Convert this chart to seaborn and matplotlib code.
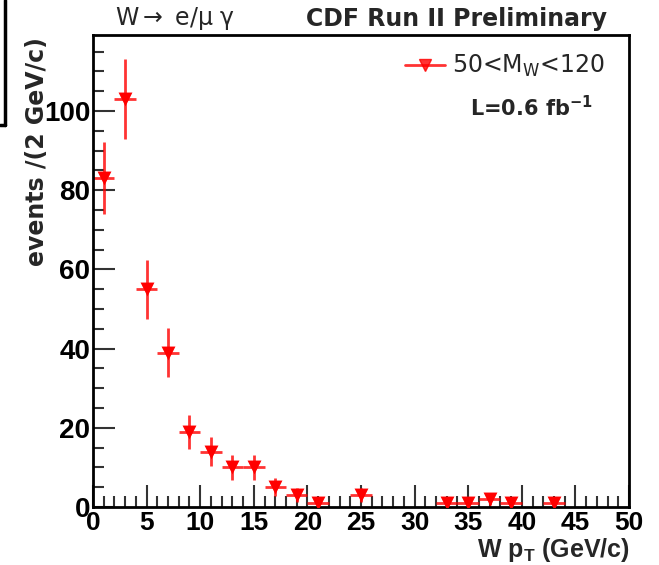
import numpy as np
import pandas as pd
import seaborn as sns
import matplotlib
matplotlib.use("Agg")
import matplotlib.pyplot as plt
from matplotlib.lines import Line2D
from matplotlib.ticker import MultipleLocator

# Data: W pT histogram (2 GeV/c bins), bin centres and counts
pt_centers = [1, 3, 5, 7, 9, 11, 13, 15, 17, 19, 21, 25, 33, 35, 37, 39, 43]
counts = [83, 103, 55, 39, 19, 14, 10, 10, 5, 3, 1, 3, 1, 1, 2, 1, 1]
bin_halfwidth = [1] * len(pt_centers)
y_err = [np.sqrt(c) for c in counts]

df = pd.DataFrame({"pt": pt_centers, "events": counts,
                   "xerr": bin_halfwidth, "yerr": y_err})

sns.set_style("ticks")
plt.rcParams['font.family'] = ['Liberation Sans', 'DejaVu Sans']

fig = plt.figure(figsize=(6.59, 5.65), dpi=100)
ax = fig.add_axes([93/659, 1-507/565, (629-93)/659, (507-35)/565])

red = "#ff0000"
ax.errorbar(df["pt"], df["events"], xerr=df["xerr"], yerr=df["yerr"],
            fmt="none", ecolor=red, elinewidth=2, capsize=0, alpha=0.8)
sns.scatterplot(data=df, x="pt", y="events", marker="v", color=red,
                s=100, edgecolor=red, linewidth=0, ax=ax, legend=False, zorder=3)

ax.set_xlim(0, 50)
ax.set_ylim(0, 119.2)
ax.xaxis.set_major_locator(MultipleLocator(5))
ax.xaxis.set_minor_locator(MultipleLocator(1))
ax.yaxis.set_major_locator(MultipleLocator(20))
ax.yaxis.set_minor_locator(MultipleLocator(5))
ax.tick_params(which="major", direction="in", length=16, width=1.5,
               color="#333333", labelcolor="black")
ax.tick_params(axis="y", which="major", pad=2, labelsize=20)
ax.tick_params(axis="x", which="major", pad=3, labelsize=19)
ax.tick_params(which="minor", direction="in", length=8, width=1.5,
               color="#333333")
for lab in ax.get_xticklabels() + ax.get_yticklabels():
    lab.set_fontweight("bold")
for sp in ax.spines.values():
    sp.set_visible(True)
    sp.set_linewidth(2)
    sp.set_color("black")
ax.set_xlabel("")
ax.set_ylabel("")

# axis titles
fig.text(630/659, 1-550/565, r"W p$_\mathregular{T}$ (GeV/c)", ha="right",
         va="center", fontsize=18, fontweight="bold")
fig.text(37/659, 1-152/565, "events /(2 GeV/c)", rotation=90, ha="center",
         va="center", fontsize=17, fontweight="bold", family=["DejaVu Sans"])

# top titles
fig.text(115/659, 1-19/565,
         r"W$\rightarrow$ e/$\mathregular{\mu}$ $\mathregular{\gamma}$",
         ha="left", va="center", fontsize=17, family=["DejaVu Sans"])
fig.text(306/659, 1-19/565, "CDF Run II Preliminary", ha="left",
         va="center", fontsize=17, fontweight="bold", family=["DejaVu Sans"])

# legend
handle = Line2D([], [], color=red, marker="v", markersize=9, linewidth=2,
                alpha=0.8)
ax.legend([handle], [r"50<M$_\mathregular{W}$<120"], loc="center left",
          bbox_to_anchor=(405/659, 1-66/565), bbox_transform=fig.transFigure,
          frameon=False, borderpad=0, borderaxespad=0,
          prop={"family": "DejaVu Sans", "size": 17},
          handlelength=1.7, handletextpad=0.3)
fig.text(470/659, 1-108/565, r"L=0.6 fb$^{\mathbf{-1}}$", ha="left",
         va="center", fontsize=15, fontweight="bold", family=["DejaVu Sans"])

# stray bracket at top-left
fig.add_artist(Line2D([5/659, 5/659], [1.0, 1-125/565], color="black",
                      linewidth=2.5, transform=fig.transFigure))
fig.add_artist(Line2D([0, 5/659], [1-125/565, 1-125/565], color="black",
                      linewidth=2.5, transform=fig.transFigure))

fig.savefig("out.png", dpi=100)
